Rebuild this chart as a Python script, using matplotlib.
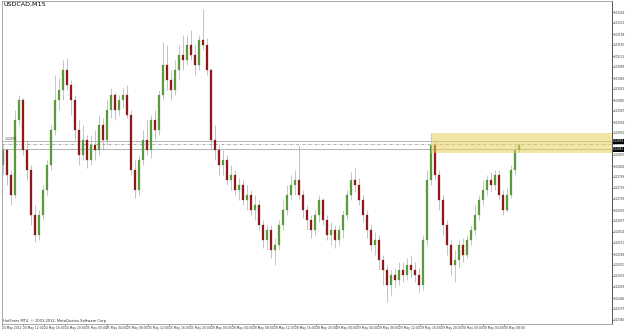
import numpy as np
import matplotlib
matplotlib.use("Agg")
import matplotlib.pyplot as plt

# USDCAD M15 candles (open of each bar is the previous close)
first_open = 1.02805
closes = [
    1.02850, 1.02775, 1.02715, 1.02940, 1.03000, 1.02850, 1.02790, 1.02655, 1.02595, 1.02655,
    1.02730, 1.02805, 1.02910, 1.03000, 1.03030, 1.03090, 1.03045, 1.03000, 1.02910, 1.02835,
    1.02880, 1.02820, 1.02865, 1.02850, 1.02925, 1.02880, 1.02970, 1.03015, 1.02970, 1.03000,
    1.03015, 1.02955, 1.02790, 1.02730, 1.02820, 1.02880, 1.02850, 1.02940, 1.02910, 1.03015,
    1.03105, 1.03060, 1.03030, 1.03090, 1.03135, 1.03120, 1.03165, 1.03135, 1.03105, 1.03180,
    1.03165, 1.03090, 1.02880, 1.02850, 1.02805, 1.02820, 1.02760, 1.02775, 1.02730, 1.02745,
    1.02700, 1.02715, 1.02670, 1.02685, 1.02625, 1.02580, 1.02610, 1.02550, 1.02565, 1.02625,
    1.02670, 1.02715, 1.02745, 1.02760, 1.02715, 1.02670, 1.02640, 1.02610, 1.02655, 1.02700,
    1.02640, 1.02595, 1.02610, 1.02580, 1.02610, 1.02655, 1.02715, 1.02760, 1.02745, 1.02700,
    1.02655, 1.02610, 1.02565, 1.02580, 1.02520, 1.02490, 1.02445, 1.02475, 1.02460, 1.02490,
    1.02475, 1.02505, 1.02490, 1.02475, 1.02445, 1.02580, 1.02760, 1.02865, 1.02775, 1.02700,
    1.02625, 1.02565, 1.02505, 1.02520, 1.02565, 1.02535, 1.02580, 1.02610, 1.02655, 1.02700,
    1.02730, 1.02760, 1.02745, 1.02775, 1.02715, 1.02670, 1.02715, 1.02790, 1.02850, 1.02865,
]
highs = [
    1.02865, 1.02856, 1.02790, 1.02970, 1.03015, 1.03006, 1.02880, 1.02805, 1.02685, 1.02670,
    1.02745, 1.02820, 1.02925, 1.03075, 1.03066, 1.03120, 1.03126, 1.03060, 1.03015, 1.02940,
    1.02925, 1.02895, 1.02895, 1.02910, 1.02955, 1.02946, 1.03000, 1.03036, 1.03024, 1.03015,
    1.03036, 1.03045, 1.02970, 1.02820, 1.02835, 1.02910, 1.02940, 1.02955, 1.02970, 1.03030,
    1.03174, 1.03165, 1.03090, 1.03120, 1.03165, 1.03195, 1.03195, 1.03210, 1.03165, 1.03195,
    1.03273, 1.03186, 1.03096, 1.02925, 1.02865, 1.02850, 1.02835, 1.02805, 1.02790, 1.02766,
    1.02760, 1.02745, 1.02730, 1.02715, 1.02700, 1.02640, 1.02625, 1.02625, 1.02586, 1.02640,
    1.02700, 1.02745, 1.02775, 1.02790, 1.02865, 1.02730, 1.02685, 1.02655, 1.02670, 1.02715,
    1.02706, 1.02655, 1.02634, 1.02625, 1.02625, 1.02670, 1.02730, 1.02784, 1.02796, 1.02766,
    1.02715, 1.02670, 1.02625, 1.02604, 1.02595, 1.02535, 1.02505, 1.02490, 1.02496, 1.02514,
    1.02514, 1.02526, 1.02535, 1.02514, 1.02496, 1.02595, 1.02790, 1.02901, 1.02880, 1.02790,
    1.02715, 1.02640, 1.02580, 1.02550, 1.02580, 1.02586, 1.02595, 1.02625, 1.02685, 1.02715,
    1.02760, 1.02775, 1.02784, 1.02790, 1.02790, 1.02730, 1.02736, 1.02805, 1.02865, 1.02871,
]
lows = [
    1.02775, 1.02745, 1.02685, 1.02706, 1.02925, 1.02835, 1.02760, 1.02625, 1.02574, 1.02580,
    1.02640, 1.02715, 1.02790, 1.02895, 1.02970, 1.03000, 1.03030, 1.02955, 1.02880, 1.02805,
    1.02820, 1.02796, 1.02805, 1.02820, 1.02835, 1.02850, 1.02865, 1.02946, 1.02940, 1.02955,
    1.02976, 1.02946, 1.02775, 1.02706, 1.02715, 1.02805, 1.02835, 1.02826, 1.02880, 1.02895,
    1.03000, 1.03030, 1.03000, 1.03015, 1.03060, 1.03090, 1.03105, 1.03120, 1.03075, 1.03090,
    1.03150, 1.03075, 1.02850, 1.02820, 1.02775, 1.02775, 1.02745, 1.02730, 1.02715, 1.02700,
    1.02685, 1.02670, 1.02655, 1.02640, 1.02610, 1.02556, 1.02550, 1.02526, 1.02505, 1.02550,
    1.02610, 1.02655, 1.02700, 1.02715, 1.02700, 1.02646, 1.02610, 1.02586, 1.02595, 1.02634,
    1.02625, 1.02580, 1.02565, 1.02556, 1.02565, 1.02586, 1.02640, 1.02700, 1.02724, 1.02685,
    1.02634, 1.02586, 1.02550, 1.02535, 1.02490, 1.02445, 1.02394, 1.02415, 1.02436, 1.02445,
    1.02454, 1.02460, 1.02466, 1.02454, 1.02424, 1.02430, 1.02565, 1.02745, 1.02760, 1.02670,
    1.02595, 1.02535, 1.02475, 1.02454, 1.02496, 1.02514, 1.02526, 1.02565, 1.02595, 1.02640,
    1.02685, 1.02715, 1.02724, 1.02730, 1.02700, 1.02655, 1.02664, 1.02706, 1.02775, 1.02844,
]

# horizontal levels and resistance zone
line_upper = 1.02876
line_bid = 1.02868
line_lower = 1.02852
zone_top = 1.02901
zone_bottom = 1.02841
zone_start = 107

date_labels = [
    "24 May 2012", "24 May 12:00", "24 May 16:00", "24 May 20:00", "25 May 00:00",
    "25 May 04:00", "25 May 08:00", "25 May 12:00", "25 May 16:00", "25 May 20:00",
    "28 May 00:00", "28 May 04:00", "28 May 08:00", "28 May 12:00", "28 May 16:00",
    "28 May 20:00", "29 May 00:00", "29 May 04:00", "29 May 08:00", "29 May 12:00",
    "29 May 16:00", "29 May 20:00", "30 May 00:00", "30 May 04:00", "30 May 08:00",
]

opens = [first_open] + closes[:-1]
n = len(closes)
idx = np.arange(n)

narrow = "Liberation Sans Narrow"

fig = plt.figure(figsize=(6.25, 3.31), dpi=100)
ax = fig.add_axes([2 / 625, 7 / 331, 610 / 625, 323 / 331])

xmax = 152.25
ax.set_xlim(-0.25, xmax)
ax.set_ylim(1.02328, 1.03297)

# candles
for i in idx:
    o, c, h, l = opens[i], closes[i], highs[i], lows[i]
    up = c >= o
    wick_col = "#86c986" if up else "#cf9a9a"
    body_col = "#5a9a3c" if up else "#8b1a1a"
    ax.vlines(i, l, h, color=wick_col, lw=0.5, zorder=2)
    ax.bar(i, max(abs(c - o), 0.00002), bottom=min(o, c), width=0.42,
           color=body_col, edgecolor=body_col, linewidth=0.2, zorder=2.5)

# levels
ax.axhline(line_upper, color="#a8a8a8", lw=0.6, zorder=1.5)
ax.axhline(line_bid, color="#8a8a8a", lw=0.5, ls=(0, (4, 2, 1, 2)), zorder=1.5)
ax.axhline(line_lower, color="#a8a8a8", lw=0.6, zorder=1.5)
ax.fill_between([zone_start, xmax], zone_bottom, zone_top, color="#e6d35b",
                alpha=0.55, lw=0, zorder=3)
ax.text(0.5, line_upper + 0.00002, f"{line_upper:.5f}", fontsize=2.2,
        family=narrow, color="#444444", va="bottom", zorder=4)

# axes styling
for side in ["left", "top", "bottom"]:
    ax.spines[side].set_color("#9a9a9a")
    ax.spines[side].set_linewidth(0.6)
ax.spines["right"].set_color("#555555")
ax.spines["right"].set_linewidth(0.7)

ax.yaxis.tick_right()
yt = np.round(np.arange(1.02340, 1.03266, 0.00033), 5)
ax.set_yticks(yt)
ax.set_yticklabels([f"{v:.5f}" for v in yt], fontsize=2.0, family=narrow,
                   color="#333333")
ax.tick_params(axis="y", direction="out", length=1.2, width=0.4, pad=0.3,
               color="#555555")

xt = (np.arange(len(date_labels)) * 20.9 - 1) / 4
ax.set_xticks(xt)
ax.set_xticklabels(date_labels, fontsize=2.2, family=narrow, ha="left",
                   color="#333333")
ax.tick_params(axis="x", direction="out", length=1.5, width=0.4, pad=0.2,
               color="#555555")

# current price markers on the scale
for val in [line_upper, line_lower]:
    ax.text(1.0015, val, f"{val:.5f}", transform=ax.get_yaxis_transform(),
            fontsize=2.0, family=narrow, color="white", va="center", ha="left",
            zorder=5, bbox=dict(boxstyle="square,pad=0.1", fc="black", ec="none"))

ax.text(0.002, 0.997, "USDCAD,M15", transform=ax.transAxes, fontsize=4.6,
        va="top", ha="left", color="black")
ax.text(0.002, 0.004, "HotForex MT4, \u00a9 2001-2012, MetaQuotes Software Corp.",
        transform=ax.transAxes, fontsize=2.6, family=narrow, va="bottom",
        ha="left", color="#333333")

fig.savefig("out.png", dpi=100)
